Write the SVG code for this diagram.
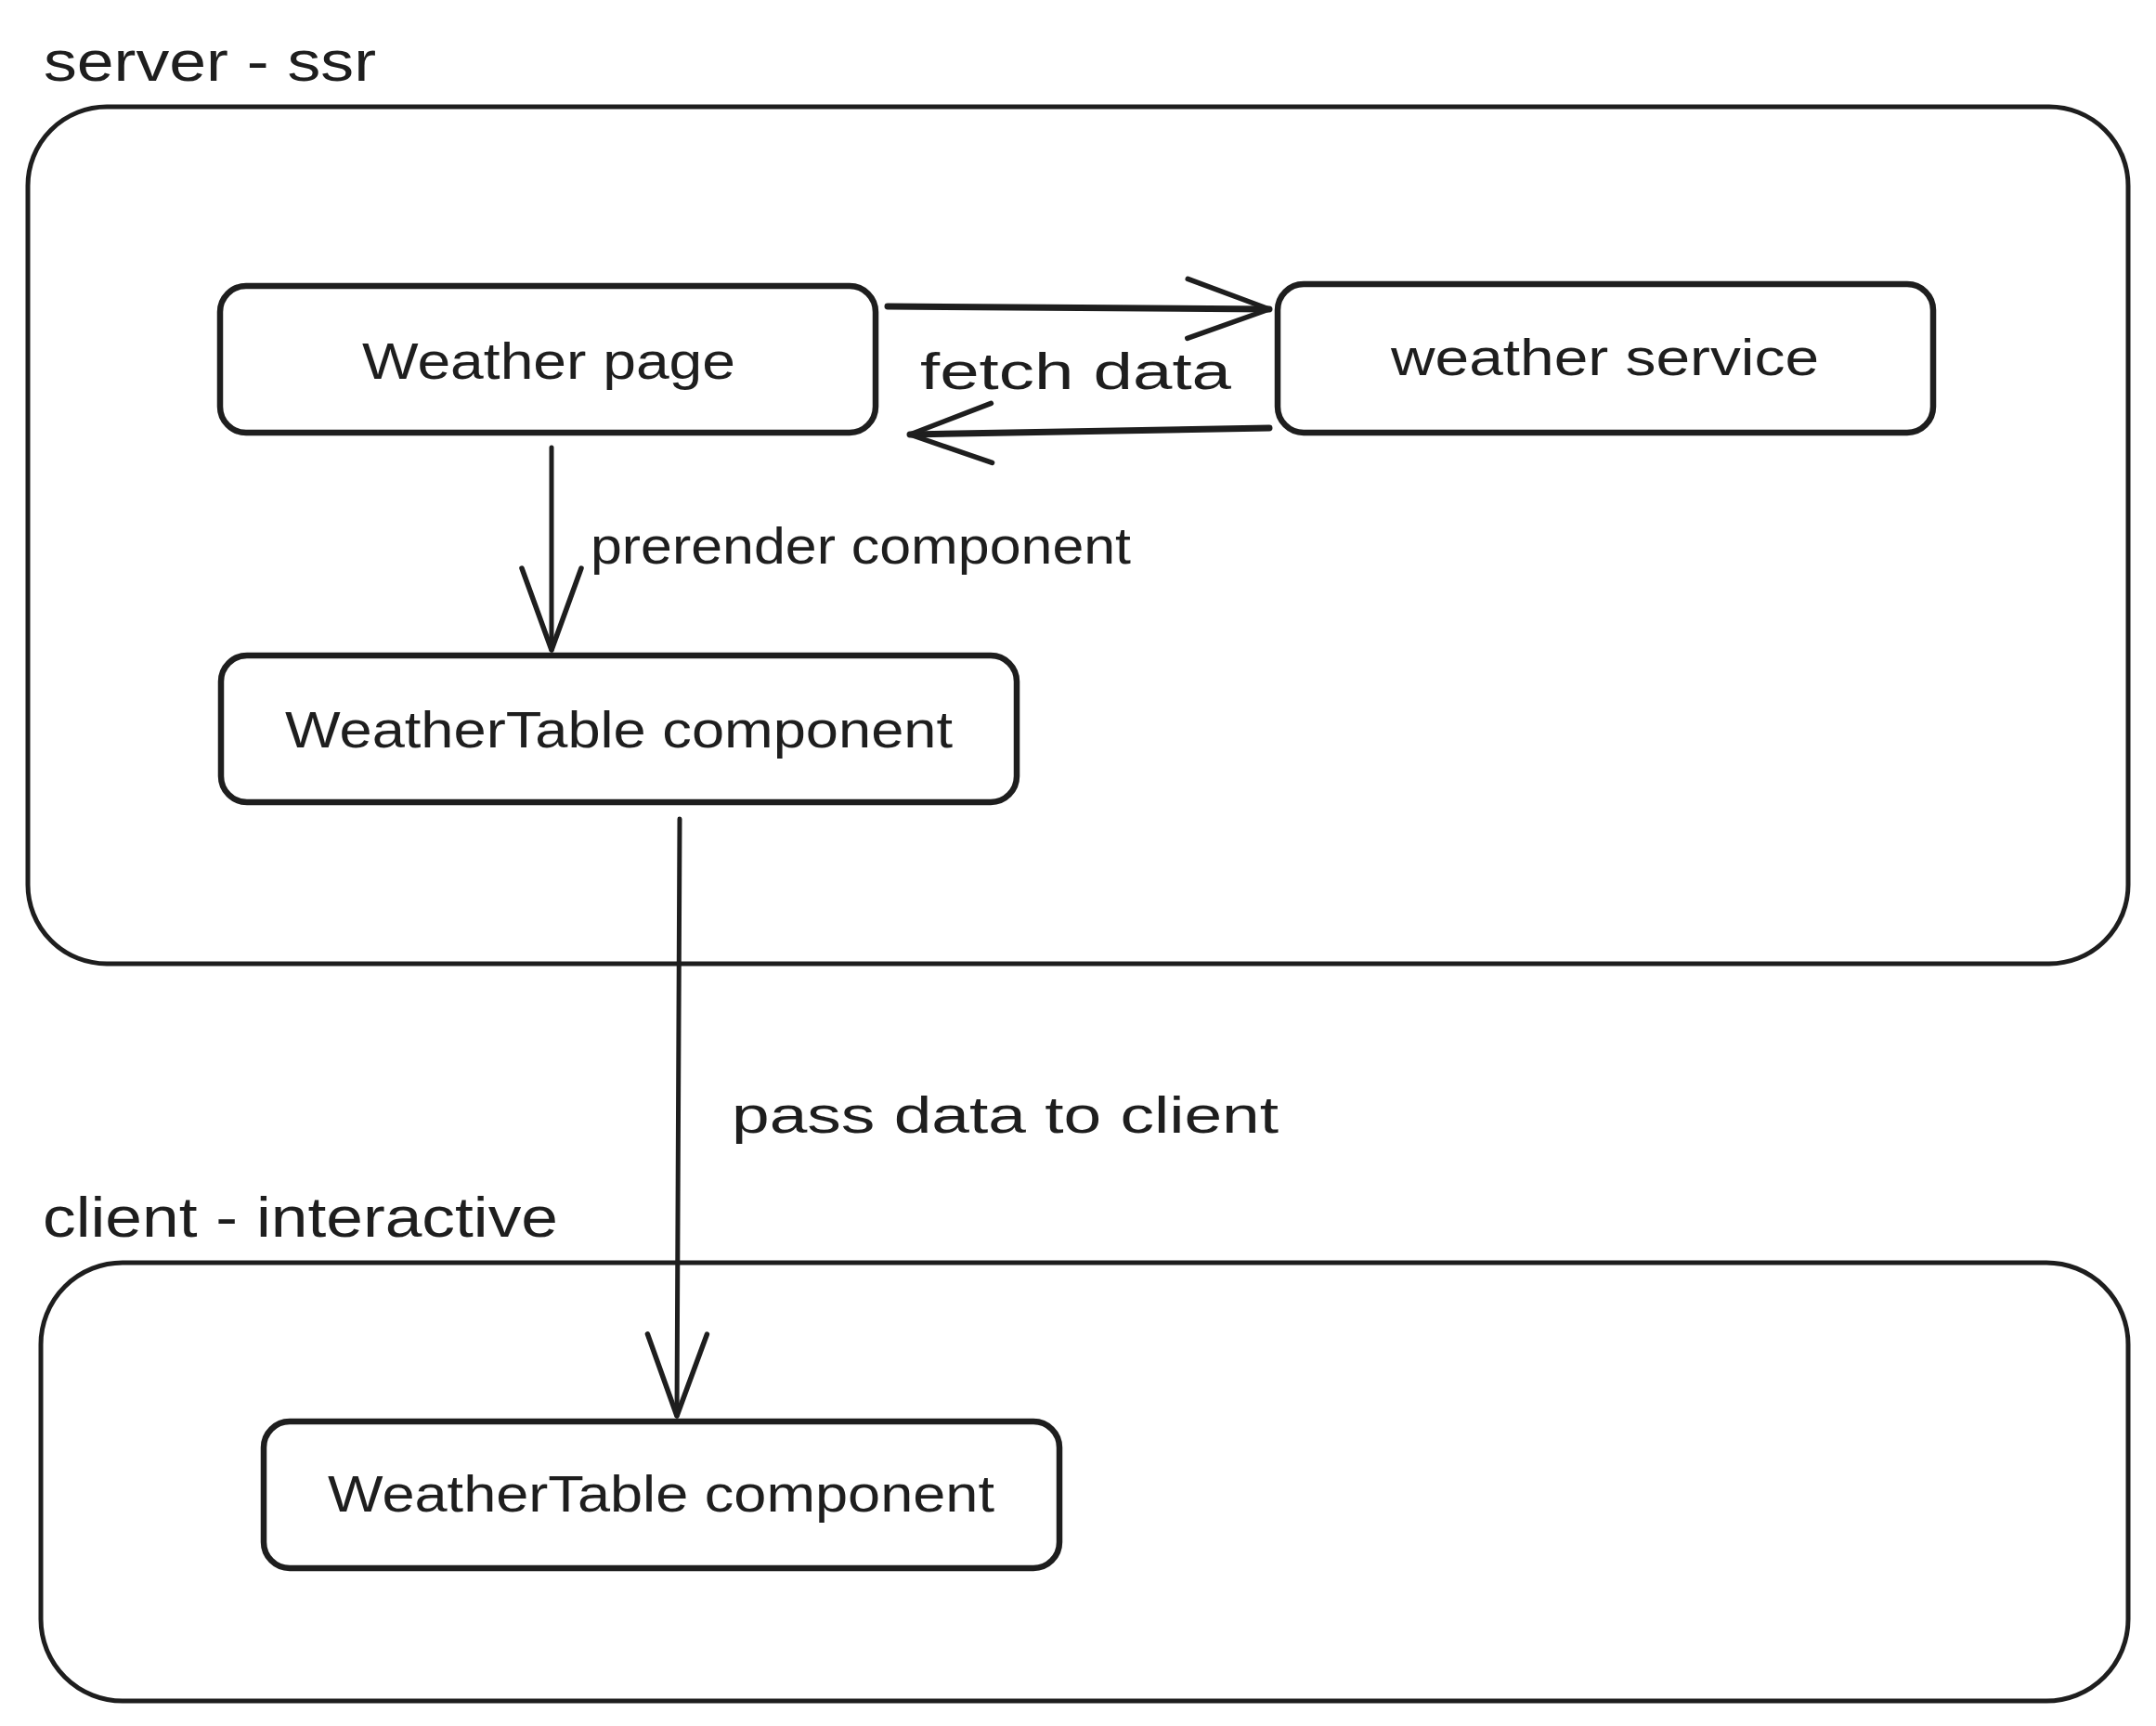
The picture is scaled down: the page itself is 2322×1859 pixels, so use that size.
<svg xmlns="http://www.w3.org/2000/svg" width="2322" height="1859" viewBox="0 0 2322 1859">
<style>
  .bg { fill: #ffffff; }
  .container { fill: none; stroke: #1e1e1e; stroke-width: 5; }
  .node { fill: #ffffff; stroke: #1e1e1e; stroke-width: 6.5; }
  .edge { fill: none; stroke: #1e1e1e; stroke-linecap: round; }
  .thick { stroke-width: 7; }
  .thin { stroke-width: 5; }
  .lbl { font-family: "Liberation Sans", Arial, sans-serif; fill: #1e1e1e; }
  .group { font-size: 62px; }
  .name { font-size: 56px; }
  .elbl { font-size: 56px; }
</style>
<defs>
  <marker id="open" markerUnits="userSpaceOnUse" markerWidth="120" markerHeight="120" viewBox="-100 -50 120 100" refX="0" refY="0" orient="auto">
    <path d="M-88,-32 L0,0 L-88,32" fill="none" stroke="#1e1e1e" stroke-width="5.5" stroke-linecap="round" stroke-linejoin="round"/>
  </marker>
</defs>
<rect class="bg" x="0" y="0" width="2322" height="1859"/>

<g id="server-container">
  <rect class="container" x="30" y="115" width="2262" height="923" rx="85" ry="85"/>
  <text class="lbl group" x="47" y="87" textLength="358" lengthAdjust="spacingAndGlyphs">server - ssr</text>
</g>

<g id="client-container">
  <rect class="container" x="44" y="1360" width="2248" height="472" rx="88" ry="88"/>
  <text class="lbl group" x="46" y="1332" textLength="555" lengthAdjust="spacingAndGlyphs">client - interactive</text>
</g>

<g id="connectors">
  <g id="edge-fetch">
    <path class="edge thick" d="M956,330 L1367,333" marker-end="url(#open)"/>
    <text class="lbl elbl" x="991" y="419" textLength="335" lengthAdjust="spacingAndGlyphs">fetch data</text>
  </g>
  <g id="edge-return">
    <path class="edge thick" d="M1367,461 L980,468" marker-end="url(#open)"/>
  </g>
  <g id="edge-prerender">
    <path class="edge thin" d="M594,482 L594,700" marker-end="url(#open)"/>
    <text class="lbl elbl" x="636" y="607" textLength="582" lengthAdjust="spacingAndGlyphs">prerender component</text>
  </g>
  <g id="edge-pass">
    <path class="edge thin" d="M732,882 L729,1525" marker-end="url(#open)"/>
    <text class="lbl elbl" x="788" y="1220" textLength="589" lengthAdjust="spacingAndGlyphs">pass data to client</text>
  </g>
</g>

<g id="weather-page">
  <rect class="node" x="237" y="308" width="706" height="158" rx="28" ry="28"/>
  <text class="lbl name" x="390" y="408" textLength="402" lengthAdjust="spacingAndGlyphs">Weather page</text>
</g>

<g id="weather-service">
  <rect class="node" x="1376" y="306" width="706" height="160" rx="28" ry="28"/>
  <text class="lbl name" x="1498" y="404" textLength="461" lengthAdjust="spacingAndGlyphs">weather service</text>
</g>

<g id="weathertable-server">
  <rect class="node" x="238" y="706" width="857" height="158" rx="28" ry="28"/>
  <text class="lbl name" x="307" y="805" textLength="719" lengthAdjust="spacingAndGlyphs">WeatherTable component</text>
</g>

<g id="weathertable-client">
  <rect class="node" x="284" y="1531" width="857" height="158" rx="28" ry="28"/>
  <text class="lbl name" x="353" y="1628" textLength="718" lengthAdjust="spacingAndGlyphs">WeatherTable component</text>
</g>
</svg>
